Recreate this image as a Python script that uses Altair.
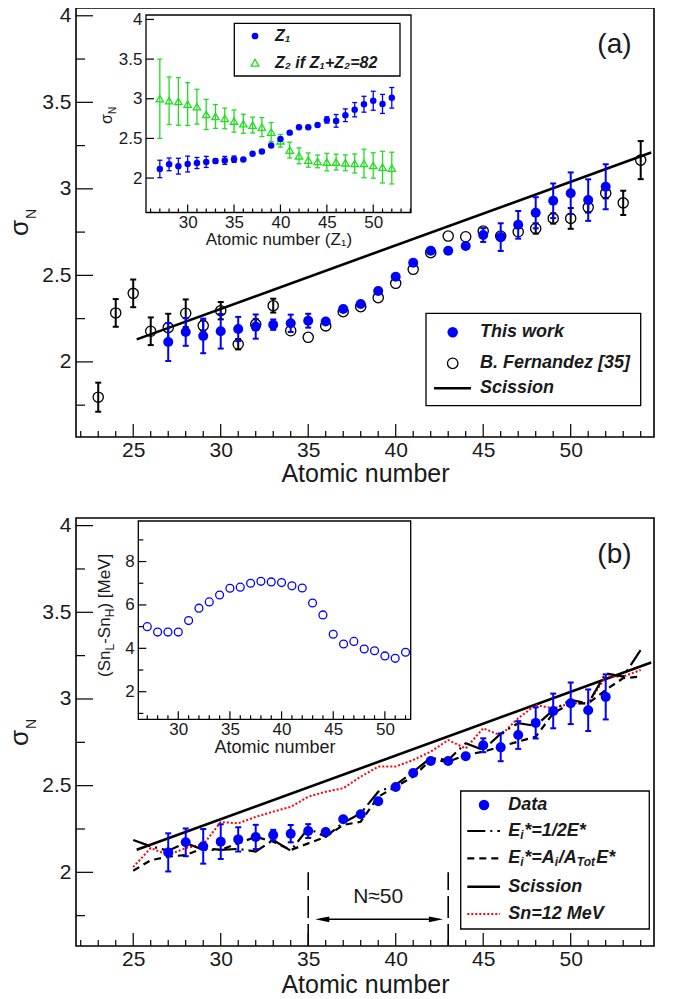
import altair as alt
import pandas as pd

FONT = "Liberation Sans"
INK = "#1a1a1a"
BLUE = "#0000ff"
GREEN = "#22dd22"
RED = "#ff0000"

# ---------------- data ----------------
z_this = list(range(27, 53))
sigma_this = [2.115, 2.173, 2.150, 2.177, 2.190, 2.204, 2.215, 2.223, 2.238, 2.233,
              2.306, 2.335, 2.410, 2.492, 2.573, 2.642, 2.642, 2.670, 2.733, 2.721,
              2.792, 2.862, 2.931, 2.975, 2.935, 3.012]
err_this = [0.11, 0.08, 0.10, 0.10, 0.07, 0.07, 0.03, 0.05, 0.04, 0.01,
            0.01, 0.01, 0.01, 0.01, 0.01, 0.01, 0.01, 0.01, 0.04, 0.08,
            0.08, 0.09, 0.10, 0.12, 0.12, 0.13]

z_fern = list(range(23, 55))
sigma_fern = [1.796, 2.283, 2.396, 2.177, 2.198, 2.281, 2.210, 2.296, 2.102, 2.217,
              2.325, 2.180, 2.142, 2.208, 2.290, 2.319, 2.371, 2.454, 2.535, 2.631,
              2.727, 2.723, 2.756, 2.727, 2.752, 2.771, 2.829, 2.829, 2.893, 2.975,
              2.919, 3.166]
err_fern = [0.084, 0.08, 0.08, 0.08, 0.08, 0.08, 0.03, 0.05, 0.03, 0.03,
            0.04, 0.02, 0.01, 0.01, 0.01, 0.01, 0.01, 0.01, 0.01, 0.01,
            0.01, 0.01, 0.01, 0.02, 0.02, 0.03, 0.03, 0.06, 0.03, 0.03,
            0.07, 0.11]

z_scission = [25.2, 54.6]
sigma_scission = [2.13, 3.21]

z_inset = list(range(27, 53))
sigma_z2 = [3.00, 2.975, 2.966, 2.933, 2.900, 2.802, 2.777, 2.752, 2.719, 2.685,
            2.668, 2.643, 2.580, 2.470, 2.353, 2.281, 2.227, 2.210, 2.202, 2.202,
            2.193, 2.184, 2.184, 2.159, 2.138, 2.126]
err_z2 = [0.50, 0.30, 0.30, 0.27, 0.22, 0.19, 0.15, 0.13, 0.14, 0.12,
          0.10, 0.12, 0.12, 0.08, 0.10, 0.10, 0.09, 0.08, 0.11, 0.10,
          0.10, 0.12, 0.18, 0.16, 0.20, 0.20]

z_model = list(range(25, 55))
sigma_half = [2.186, 2.150, 2.125, 2.170, 2.130, 2.130, 2.135, 2.120, 2.186, 2.125,
              2.254, 2.205, 2.286, 2.340, 2.465, 2.504, 2.580, 2.660, 2.648, 2.745,
              2.706, 2.800, 2.860, 2.845, 2.937, 2.994, 2.975, 3.148, 3.129, 3.283]
sigma_mass = [2.009, 2.070, 2.090, 2.100, 2.138, 2.130, 2.167, 2.205, 2.177, 2.129,
              2.167, 2.205, 2.273, 2.292, 2.436, 2.494, 2.552, 2.648, 2.638, 2.677,
              2.696, 2.725, 2.754, 2.782, 2.917, 2.975, 2.975, 3.052, 3.120, 3.129]
sigma_sn12 = [2.030, 2.140, 2.100, 2.140, 2.160, 2.290, 2.283, 2.320, 2.350, 2.378,
              2.436, 2.465, 2.485, 2.552, 2.610, 2.610, 2.648, 2.696, 2.763, 2.715,
              2.831, 2.790, 2.889, 2.965, 2.946, 2.975, 2.975, 3.129, 3.129, 3.167]

z_sn = list(range(27, 53))
sn_diff = [5.00, 4.75, 4.75, 4.75, 5.28, 5.85, 6.14, 6.46, 6.77, 6.82,
           7.00, 7.09, 7.06, 7.03, 6.88, 6.78, 6.09, 5.54, 4.65, 4.20,
           4.32, 3.97, 3.89, 3.65, 3.54, 3.82]

# annotations of panel (b)
n50_z = [35, 43]
n50_top = 2.0
n50_arrow_z = [35.8, 42.3]
n50_arrow_sigma = 1.729
n50_text = "N≈50"
n50_text_pos = [39.0, 1.86]
panel_tags = ["(a)", "(b)"]
tag_pos = [52.5, 3.83]

# axis tick values
main_x_major = [25, 30, 35, 40, 45, 50]
main_x_minor = [v for v in range(22, 55) if v % 5]
main_y_major = [2, 2.5, 3, 3.5, 4]
main_y_minor = [1.75, 2.25, 2.75, 3.25, 3.75]
ia_x_major = [30, 35, 40, 45, 50]
ia_x_minor = [v for v in range(26, 55) if v % 5]
ia_y_major = [2, 2.5, 3, 3.5, 4]
ib_x_major = [30, 35, 40, 45, 50]
ib_x_minor = [v for v in range(27, 53) if v % 5]
ib_y_major = [2, 4, 6, 8]
ib_y_minor = [1, 3, 5, 7, 9]

# ---------------- layout (chart pixels) ----------------
W, H = 650, 989
BOX_A = (68, 0, 646, 429)
BOX_IA = (138, 7, 403, 204.5)
BOX_B = (68, 510, 646, 938)
BOX_IB = (130.3, 513, 402.7, 711.3)

one = pd.DataFrame({"k": [0]})


def lin(domain, rng):
    return alt.Scale(domain=domain, range=rng, nice=False, zero=False)


def axis(orient, offset, values, size, title="", title_size=18, label_pad=3, title_pad=2):
    kw = dict(orient=orient, offset=offset, values=values, ticks=False, tickSize=0,
              domain=False, grid=False, labelFont=FONT, labelFontSize=size,
              labelColor=INK, labelPadding=label_pad, labelFlush=False,
              labelOverlap=False, labelExpr="'' + datum.value", title=title)
    if title:
        kw.update(titleFont=FONT, titleFontSize=title_size, titleFontWeight="normal",
                  titleColor=INK, titlePadding=title_pad)
    return alt.Axis(**kw)


class Panel:
    def __init__(self, xdom, ydom, box, ax, ay):
        self.box = box
        self.xs = lin(xdom, [box[0], box[2]])
        self.ys = lin(ydom, [box[3], box[1]])
        self.ax, self.ay = ax, ay

    def X(self, f):
        return alt.X(f, type="quantitative", scale=self.xs, axis=self.ax)

    def Y(self, f):
        return alt.Y(f, type="quantitative", scale=self.ys, axis=self.ay)

    def xticks(self, vals, length, w=1.2):
        df = pd.DataFrame({"t": vals})
        return alt.Chart(df).mark_rule(color="black", strokeWidth=w).encode(
            x=self.X("t"), y=alt.value(self.box[3]), y2=alt.value(self.box[3] - length))

    def yticks(self, vals, length, w=1.2):
        df = pd.DataFrame({"t": vals})
        return alt.Chart(df).mark_rule(color="black", strokeWidth=w).encode(
            y=self.Y("t"), x=alt.value(self.box[0]), x2=alt.value(self.box[0] + length))

    def errbars(self, z, s, e, color, w, cap, min_err=0.015):
        rows = [(a, b - c, b + c) for a, b, c in zip(z, s, e) if c >= min_err]
        df = pd.DataFrame(rows, columns=["Z", "lo", "hi"])
        base = alt.Chart(df)
        bar = base.mark_rule(color=color, strokeWidth=w).encode(
            x=self.X("Z"), y=self.Y("lo"), y2=alt.Y2("hi"))
        lo = base.mark_rule(color=color, strokeWidth=w, xOffset=-cap, x2Offset=cap).encode(
            x=self.X("Z"), x2=alt.X2("Z"), y=self.Y("lo"))
        hi = base.mark_rule(color=color, strokeWidth=w, xOffset=-cap, x2Offset=cap).encode(
            x=self.X("Z"), x2=alt.X2("Z"), y=self.Y("hi"))
        return [bar, lo, hi]

    def points(self, z, s, **mk):
        df = pd.DataFrame({"Z": z, "s": s})
        return alt.Chart(df).mark_point(opacity=1, **mk).encode(x=self.X("Z"), y=self.Y("s"))

    def line(self, z, s, **mk):
        df = pd.DataFrame({"Z": z, "s": s})
        return alt.Chart(df).mark_line(**mk).encode(x=self.X("Z"), y=self.Y("s"))


def frame(box, w, fill=None):
    mk = dict(stroke="black", strokeWidth=w)
    if fill:
        mk["fill"] = fill
    else:
        mk["fillOpacity"] = 0
    return alt.Chart(one).mark_rect(**mk).encode(
        x=alt.value(box[0]), x2=alt.value(box[2]), y=alt.value(box[1]), y2=alt.value(box[3]))


def label(text, x, y, size, weight="normal", style="normal", align="left",
          baseline="middle", angle=0, color=INK):
    mk = dict(text=text, fontSize=size, font=FONT, fontWeight=weight, fontStyle=style,
              align=align, baseline=baseline, color=color)
    if angle:
        mk["angle"] = angle
    return alt.Chart(one).mark_text(**mk).encode(x=alt.value(x), y=alt.value(y))


def lg_rule(x0, x1, y, color="black", w=2.5, dash=None):
    mk = dict(color=color, strokeWidth=w)
    if dash:
        mk["strokeDash"] = dash
    return alt.Chart(one).mark_rule(**mk).encode(
        x=alt.value(x0), x2=alt.value(x1), y=alt.value(y))


def lg_point(x, y, **mk):
    return alt.Chart(one).mark_point(opacity=1, **mk).encode(x=alt.value(x), y=alt.value(y))


# ---------------- panels ----------------
pA = Panel([21.73, 54.76], [1.566, 4.045], BOX_A,
           axis("bottom", BOX_A[3] - H, main_x_major, 21, "Atomic number", 25, 2, 1),
           axis("left", -BOX_A[0], main_y_major, 21, label_pad=5))
pIA = Panel([25.51, 54.07], [1.566, 4.056], BOX_IA,
            axis("bottom", BOX_IA[3] - H, ia_x_major, 17, "Atomic number (Z₁)", 17, 2, 1),
            axis("left", -BOX_IA[0], ia_y_major, 17, label_pad=4))
pB = Panel([21.73, 54.76], [1.575, 4.044], BOX_B,
           axis("bottom", BOX_B[3] - H, main_x_major, 21, "Atomic number", 25, 2, 3),
           axis("left", -BOX_B[0], main_y_major, 21, label_pad=5))
pIB = Panel([26.13, 52.5], [0.728, 9.87], BOX_IB,
            axis("bottom", BOX_IB[3] - H, ib_x_major, 17, "Atomic number", 18, 2, 1),
            axis("left", -BOX_IB[0], ib_y_major, 17, label_pad=4))

tagA = alt.Chart(pd.DataFrame({"Z": [tag_pos[0]], "s": [tag_pos[1]], "t": [panel_tags[0]]})).mark_text(
    font=FONT, fontSize=28, color=INK).encode(x=pA.X("Z"), y=pA.Y("s"), text="t:N")
tagB = alt.Chart(pd.DataFrame({"Z": [tag_pos[0]], "s": [tag_pos[1]], "t": [panel_tags[1]]})).mark_text(
    font=FONT, fontSize=28, color=INK).encode(x=pB.X("Z"), y=pB.Y("s"), text="t:N")

groupA = alt.layer(
    pA.xticks(main_x_major, 13), pA.xticks(main_x_minor, 6),
    pA.yticks(main_y_major, 17), pA.yticks(main_y_minor, 9),
    pA.line(z_scission, sigma_scission, color="black", strokeWidth=2.6),
    *pA.errbars(z_fern, sigma_fern, err_fern, "black", 2, 3, 0.025),
    pA.points(z_fern, sigma_fern, shape="circle", filled=False, size=105,
              stroke="black", strokeWidth=1.3),
    *pA.errbars(z_this, sigma_this, err_this, BLUE, 2, 3),
    pA.points(z_this, sigma_this, shape="circle", filled=True, size=100, color=BLUE),
    tagA,
)

groupIA = alt.layer(
    pIA.xticks(ia_x_major, 8), pIA.xticks(ia_x_minor, 4),
    pIA.yticks(ia_y_major, 8),
    *pIA.errbars(z_inset, sigma_z2, err_z2, GREEN, 1.3, 2.5),
    pIA.points(z_inset, sigma_z2, shape="triangle-up", filled=False, size=55,
               stroke=GREEN, strokeWidth=1.3),
    *pIA.errbars(z_this, sigma_this, err_this, BLUE, 1.3, 2.5),
    pIA.points(z_this, sigma_this, shape="circle", filled=True, size=42, color=BLUE),
)

nlines = alt.Chart(pd.DataFrame({"Z": n50_z, "lo": [1.575] * 2, "hi": [n50_top] * 2})).mark_rule(
    color="black", strokeWidth=1.6, strokeDash=[22, 6]).encode(
    x=pB.X("Z"), y=pB.Y("lo"), y2=alt.Y2("hi"))
arrow_df = pd.DataFrame({"Z": [n50_arrow_z[0]], "Z2": [n50_arrow_z[1]], "s": [n50_arrow_sigma]})
arrow_line = alt.Chart(arrow_df).mark_rule(color="black", strokeWidth=1.6).encode(
    x=pB.X("Z"), x2=alt.X2("Z2"), y=pB.Y("s"))
head_l = alt.Chart(pd.DataFrame({"Z": [n50_arrow_z[0]], "s": [n50_arrow_sigma]})).mark_point(
    shape="M -1 0 L 1 -0.4 L 1 0.4 Z", filled=True, size=200, color="black", opacity=1).encode(
    x=pB.X("Z"), y=pB.Y("s"))
head_r = alt.Chart(pd.DataFrame({"Z": [n50_arrow_z[1]], "s": [n50_arrow_sigma]})).mark_point(
    shape="M 1 0 L -1 -0.4 L -1 0.4 Z", filled=True, size=200, color="black", opacity=1).encode(
    x=pB.X("Z"), y=pB.Y("s"))
n50_lbl = alt.Chart(pd.DataFrame({"Z": [n50_text_pos[0]], "s": [n50_text_pos[1]], "t": [n50_text]})).mark_text(
    font=FONT, fontSize=21, color=INK).encode(x=pB.X("Z"), y=pB.Y("s"), text="t:N")

groupB = alt.layer(
    pB.xticks(main_x_major, 13), pB.xticks(main_x_minor, 6),
    pB.yticks(main_y_major, 17), pB.yticks(main_y_minor, 9),
    pB.line(z_scission, sigma_scission, color="black", strokeWidth=2.6),
    pB.line(z_model, sigma_sn12, color=RED, strokeWidth=2, strokeDash=[2, 2]),
    pB.line(z_model, sigma_mass, color="black", strokeWidth=2.2, strokeDash=[7, 5]),
    pB.line(z_model, sigma_half, color="black", strokeWidth=2.2, strokeDash=[18, 5, 2, 5]),
    *pB.errbars(z_this, sigma_this, err_this, BLUE, 2, 3),
    pB.points(z_this, sigma_this, shape="circle", filled=True, size=100, color=BLUE),
    nlines, arrow_line, head_l, head_r, n50_lbl, tagB,
)

groupIB = alt.layer(
    pIB.xticks(ib_x_major, 8), pIB.xticks(ib_x_minor, 4),
    pIB.yticks(ib_y_major, 8), pIB.yticks(ib_y_minor, 5),
    pIB.points(z_sn, sn_diff, shape="circle", filled=False, size=62, stroke=BLUE, strokeWidth=1.3),
)

# ---------------- legends and titles ----------------
BI = dict(weight="bold", style="italic")
legA = [
    frame((418, 305.3, 632.7, 397.7), 1.3, "white"),
    lg_point(444.7, 324.3, shape="circle", filled=True, size=110, color=BLUE),
    lg_point(444.7, 355.3, shape="circle", filled=False, size=110, stroke="black", strokeWidth=1.3),
    lg_rule(426, 463, 380.3),
    label("This work", 472, 324.3, 18, **BI),
    label("B. Fernandez [35]", 472, 355.3, 18, **BI),
    label("Scission", 472, 380.3, 18, **BI),
]
legIA = [
    frame((226.3, 15.3, 392, 68), 1.3, "white"),
    lg_point(247, 28, shape="circle", filled=True, size=45, color=BLUE),
    lg_point(247, 54.7, shape="triangle-up", filled=False, size=60, stroke=GREEN, strokeWidth=1.3),
    label("Z₁", 267, 28, 16, **BI),
    label("Z₂ if Z₁+Z₂=82", 267, 54.7, 16, **BI),
]
x0 = 500.3
legB = [
    frame((452.7, 783, 641.3, 921), 1.3, "white"),
    lg_point(476, 797, shape="circle", filled=True, size=110, color=BLUE),
    lg_rule(459.3, 492, 823, w=2.2, dash=[18, 5, 2, 5]),
    lg_rule(459.3, 492, 850.3, w=2.2, dash=[7, 5]),
    lg_rule(459.3, 492, 878.7, w=2.5),
    lg_rule(459.3, 492, 906, color=RED, w=2, dash=[2, 2]),
    label("Data", x0, 797, 18, **BI),
    label("E", x0, 823, 18, **BI),
    label("i", x0 + 12, 827, 12, **BI),
    label("*=1/2E*", x0 + 16, 823, 18, **BI),
    label("E", x0, 850.3, 18, **BI),
    label("i", x0 + 12, 854.3, 12, **BI),
    label("*=A", x0 + 16, 850.3, 18, **BI),
    label("i", x0 + 46.5, 854.3, 12, **BI),
    label("/A", x0 + 50.5, 850.3, 18, **BI),
    label("Tot", x0 + 68.5, 854.3, 12, **BI),
    label("E*", x0 + 88, 850.3, 18, **BI),
    label("Scission", x0, 878.7, 18, **BI),
    label("Sn=12 MeV", x0, 906, 18, **BI),
]


def sigma_title(xb, yb, big, small, dx, dy):
    return [label("σ", xb, yb, big, align="left", baseline="alphabetic", angle=270),
            label("N", xb + dx, yb - dy, small, align="left", baseline="alphabetic", angle=270)]


titles = (sigma_title(20, 228, 26, 14, 8, 17)
          + sigma_title(20, 738, 26, 14, 8, 17)
          + sigma_title(104, 116, 16, 10, 4, 10))

yb = 669
sn_title = [
    label("(Sn", 102, yb, 17, align="left", baseline="alphabetic", angle=270),
    label("L", 106, yb - 26.5, 12, align="left", baseline="alphabetic", angle=270),
    label("-Sn", 102, yb - 33.2, 17, align="left", baseline="alphabetic", angle=270),
    label("H", 106, yb - 59.7, 12, align="left", baseline="alphabetic", angle=270),
    label(") [MeV]", 102, yb - 68.4, 17, align="left", baseline="alphabetic", angle=270),
]

layers = ([frame(BOX_A, 1.6), groupA, frame(BOX_IA, 1.3, "white"), groupIA]
          + legIA + legA
          + [frame(BOX_B, 1.6), groupB, frame(BOX_IB, 1.3, "white"), groupIB]
          + legB + titles + sn_title)

chart = alt.layer(*layers).resolve_scale(x="independent", y="independent").properties(
    width=W, height=H, padding=0, autosize=alt.AutoSizeParams(type="none"),
    background="white",
).configure_view(stroke="transparent")

chart.save("out.html", embed_options={"renderer": "svg", "actions": False})
